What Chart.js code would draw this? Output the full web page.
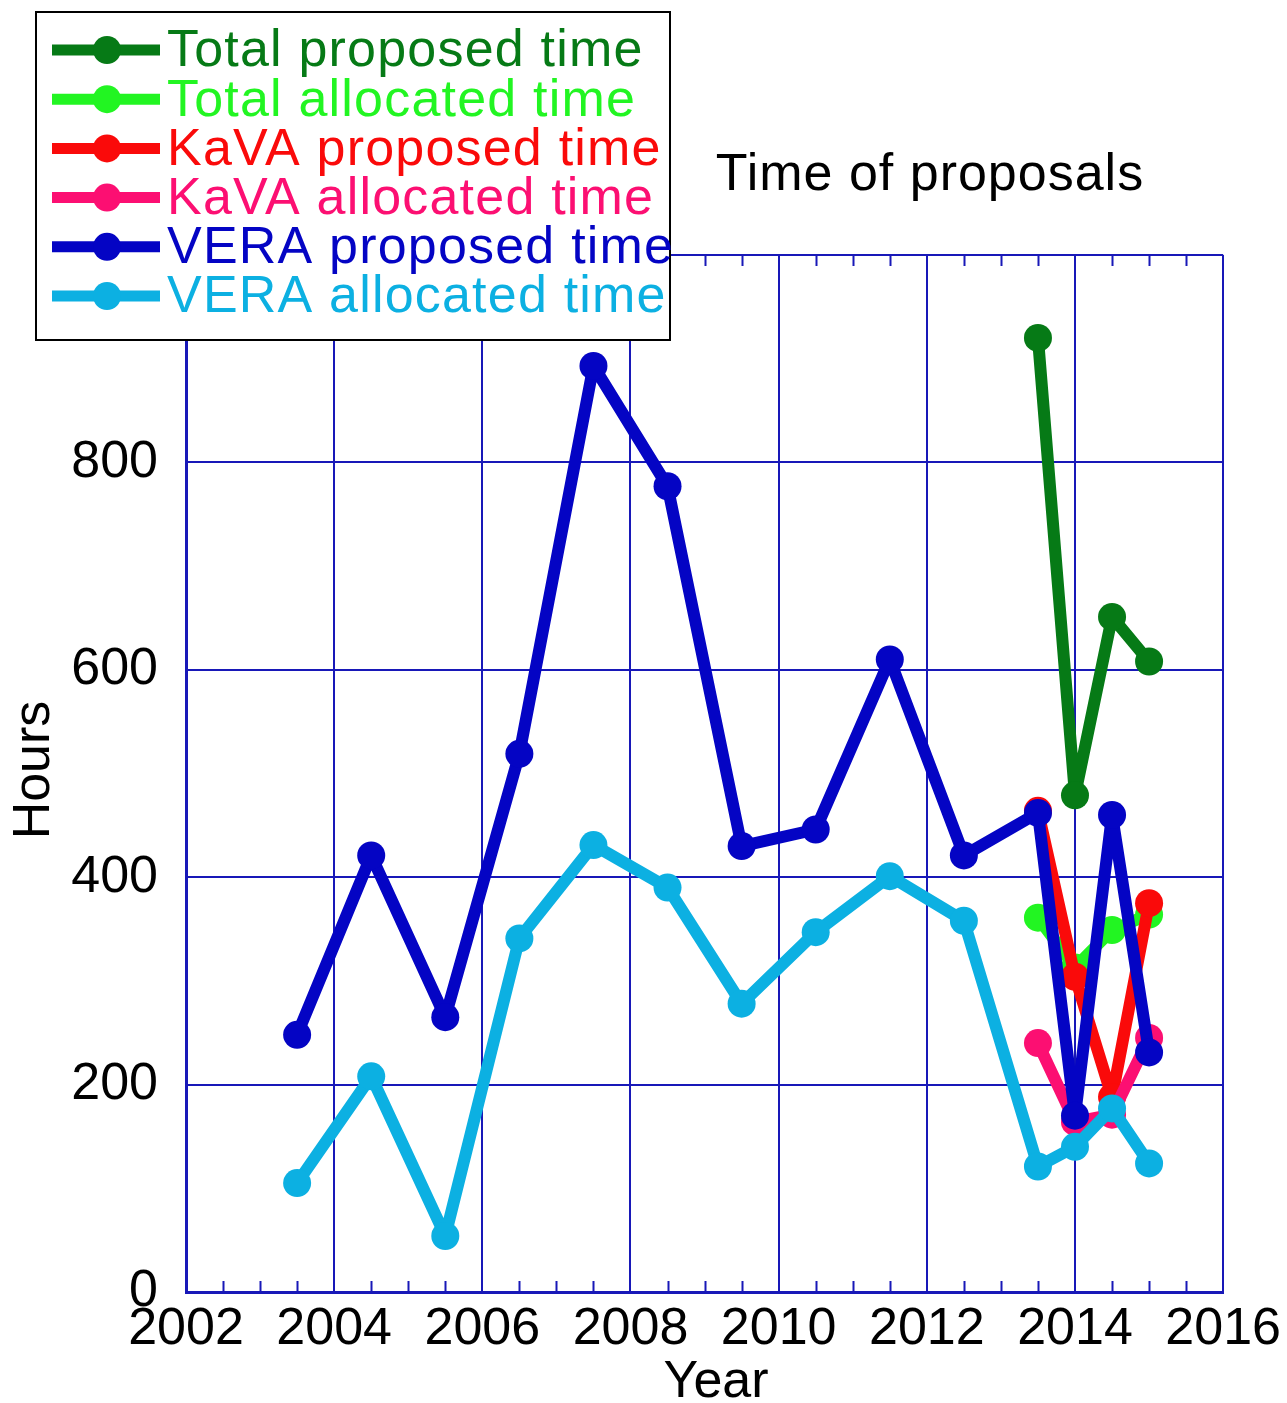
<!DOCTYPE html>
<html>
<head>
<meta charset="utf-8">
<script src="https://cdn.jsdelivr.net/npm/chart.js@4.4.1/dist/chart.umd.min.js"></script>
<style>
  html, body { margin: 0; padding: 0; background: #fff; }
  #wrap { width: 1287px; height: 1403px; }
</style>
</head>
<body>
<div id="wrap"><canvas id="myChart" width="1287" height="1403"></canvas></div>
<script>
// Годы наблюдений
const veraYears = [2003.5, 2004.5, 2005.5, 2006.5, 2007.5, 2008.5, 2009.5, 2010.5, 2011.5, 2012.5, 2013.5, 2014, 2014.5, 2015];
const kavaYears = [2013.5, 2014, 2014.5, 2015];

// Значения (часы)
const totalProposed = [920, 479, 651, 608];
const totalAllocated = [361, 313, 349, 364];
const kavaProposed = [464, 304, 188, 375];
const kavaAllocated = [240, 164, 171, 245];
const veraProposed = [248, 421, 265, 519, 893, 777, 430, 446, 610, 421, 462, 170, 460, 231];
const veraAllocated = [105, 208, 54, 341, 431, 390, 278, 347, 401, 358, 121, 140, 177, 124];

const seriesNames = ['Total proposed time', 'Total allocated time', 'KaVA proposed time',
    'KaVA allocated time', 'VERA proposed time', 'VERA allocated time'];
const seriesColors = ['#067a16', '#22f522', '#fa0a0a', '#fc0f72', '#0404c4', '#0cb0e2'];

const axisColor = '#1818b8';
const fontName = '"Liberation Sans", Arial, sans-serif';

function toPoints(xs, ys) {
    return xs.map((x, i) => ({ x: x, y: ys[i] }));
}

const seriesData = [
    toPoints(kavaYears, totalProposed),
    toPoints(kavaYears, totalAllocated),
    toPoints(kavaYears, kavaProposed),
    toPoints(kavaYears, kavaAllocated),
    toPoints(veraYears, veraProposed),
    toPoints(veraYears, veraAllocated)
];

const datasets = seriesNames.map((name, i) => ({
    label: name,
    data: seriesData[i],
    borderColor: seriesColors[i],
    backgroundColor: seriesColors[i],
    borderWidth: 12,
    borderJoinStyle: 'round',
    borderCapStyle: 'round',
    pointRadius: 14,
    pointBorderWidth: 0,
    pointHoverRadius: 14,
    tension: 0,
    clip: false,
    order: seriesNames.length - i // последние серии рисуются сверху
}));

// Подписи, мелкие засечки и легенда
const extras = {
    id: 'extras',
    afterDraw(chart) {
        const ctx = chart.ctx;
        const area = chart.chartArea;
        const xs = chart.scales.x;
        ctx.save();

        // мелкие засечки по оси X
        ctx.strokeStyle = axisColor;
        ctx.lineWidth = 2;
        for (let v = 2002.5; v < 2016; v += 0.5) {
            if (v % 2 === 0) continue;
            const px = Math.round(xs.getPixelForValue(v)) + 0.5;
            ctx.beginPath();
            ctx.moveTo(px, area.bottom);
            ctx.lineTo(px, area.bottom - 11);
            ctx.moveTo(px, area.top);
            ctx.lineTo(px, area.top + 11);
            ctx.stroke();
        }

        // заголовки осей и графика
        ctx.fillStyle = '#000';
        ctx.font = '52px ' + fontName;
        ctx.textAlign = 'center';
        ctx.textBaseline = 'middle';
        ctx.fillText('Year', 716, 1383);
        ctx.save();
        ctx.translate(35, 770);
        ctx.rotate(-Math.PI / 2);
        ctx.fillText('Hours', 0, 0);
        ctx.restore();
        ctx.letterSpacing = '1px';
        ctx.fillText('Time of proposals', 930, 176);

        // легенда
        ctx.fillStyle = '#fff';
        ctx.fillRect(36, 12, 634, 328);
        ctx.strokeStyle = '#000';
        ctx.lineWidth = 2;
        ctx.strokeRect(36, 12, 634, 328);
        ctx.textAlign = 'left';
        ctx.letterSpacing = '1.2px';
        chart.data.datasets.forEach((ds, i) => {
            const y = 50 + i * 49.2;
            ctx.strokeStyle = ds.borderColor;
            ctx.lineWidth = 11;
            ctx.beginPath();
            ctx.moveTo(52, y);
            ctx.lineTo(160, y);
            ctx.stroke();
            ctx.fillStyle = ds.borderColor;
            ctx.beginPath();
            ctx.arc(107, y, 14, 0, Math.PI * 2);
            ctx.fill();
            ctx.fillText(ds.label, 167, y + 2);
        });
        ctx.restore();
    }
};

new Chart(document.getElementById('myChart').getContext('2d'), {
    type: 'line',
    data: { datasets: datasets },
    options: {
        responsive: false,
        animation: false,
        layout: { padding: { top: 255, right: 63, left: 0, bottom: 0 } },
        plugins: {
            legend: { display: false },
            title: { display: false },
            tooltip: { enabled: false }
        },
        scales: {
            x: {
                type: 'linear',
                min: 2002,
                max: 2016,
                ticks: {
                    stepSize: 2,
                    color: '#000',
                    padding: 6,
                    maxRotation: 0,
                    font: { family: fontName, size: 52 },
                    callback: v => String(v)
                },
                grid: { color: axisColor, lineWidth: 2, drawTicks: false },
                border: { color: axisColor, width: 3 },
                afterFit(scale) { scale.height = 111; }
            },
            y: {
                min: 0,
                max: 1000,
                ticks: {
                    stepSize: 200,
                    color: '#000',
                    padding: 28,
                    font: { family: fontName, size: 52 },
                    callback: v => (v === 1000 ? '' : String(v))
                },
                grid: { color: axisColor, lineWidth: 2, drawTicks: false },
                border: { color: axisColor, width: 3 },
                afterFit(scale) { scale.width = 186; }
            }
        }
    },
    plugins: [extras]
});
</script>
</body>
</html>
